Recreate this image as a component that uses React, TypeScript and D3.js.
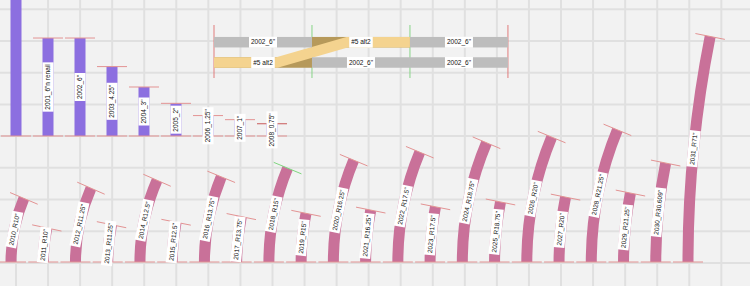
import React, { useEffect, useRef } from 'react';
import * as d3 from 'd3';

// straight bars (inches)
const barNames = ['2000_20"', '2001_6"n renail', '2002_6"', '2003_4.25"', '2004_3"', '2005_2"', '2006_1.25"', '2007_1"', '2008_0.75"'];
const barLengths = [20, 6, 6, 4.25, 3, 2, 1.25, 1, 0.75];

// bent bars: radius and arc length (inches)
const arcNames = ['2010_R10"', '2011_R10"', '2012_R11.25"', '2013_R11.25"', '2014_R12.5"', '2015_R12.5"', '2016_R13.75"', '2017_R13.75"', '2018_R15"', '2019_R15"', '2020_R16.25"', '2021_R16.25"', '2022_R17.5"', '2023_R17.5"', '2024_R18.75"', '2025_R18.75"', '2026_R20"', '2027_R20"', '2028_R21.25"', '2029_R21.25"', '2030_R30.609"', '2031_R71"'];
const arcRadii = [10, 10, 11.25, 11.25, 12.5, 12.5, 13.75, 13.75, 15, 15, 16.25, 16.25, 17.5, 17.5, 18.75, 18.75, 20, 20, 21.25, 21.25, 30.609, 71];
const arcLengths = [4, 2.1, 4.65, 2.3, 5.15, 2.45, 5.35, 2.8, 5.9, 3, 6.4, 3.2, 6.9, 3.4, 7.5, 3.7, 7.85, 4, 8.3, 4.25, 6.1, 13.9];

// lap splice layout (inches)
const lapLabels = ['2002_6"', '#5 alt2', '2002_6"', '#5 alt2', '2002_6"', '2002_6"'];
const lapRows = [0, 0, 0, 1, 1, 1];
const lapStart = [0, 6, 12, 0, 6, 12];
const lapEnd = [6, 12, 18, 6, 12, 18];
const crankX = [0, 3.85, 8.15, 12];
const crankRow = [1, 1, 0, 0];
const endMarks = [0, 18];
const spliceMarks = [6, 12];

const W = 750;
const H = 286;
const PX_PER_IN = 16.33;
const BAR_W = 11;
const FONT = '"Liberation Sans", Arial, sans-serif';

const App = () => {
  const svgRef = useRef<SVGSVGElement>(null);

  useEffect(() => {
    const svg = d3.select(svgRef.current);
    svg.selectAll('*').remove();

    svg.append('rect').attr('width', W).attr('height', H).attr('fill', '#f2f2f2');

    // rejilla
    const grid = svg.append('g').attr('stroke', '#e0e0e0').attr('stroke-width', 2);
    d3.range(0, 24).forEach(k => {
      const x = 16 + k * 32.06;
      grid.append('line').attr('x1', x).attr('x2', x).attr('y1', 0).attr('y2', H);
    });
    d3.range(0, 9).forEach(k => {
      const y = 9.3 + k * 31.7;
      grid.append('line').attr('x1', 0).attr('x2', W).attr('y1', y).attr('y2', y);
    });

    const addLabel = (parent, x, y, rot, text) => {
      const g = parent.append('g').attr('transform', `translate(${x},${y}) rotate(${rot})`);
      const rect = g.append('rect').attr('fill', '#ffffff');
      const t = g.append('text')
        .attr('text-anchor', 'middle')
        .attr('dy', '0.35em')
        .attr('font-family', FONT)
        .attr('font-size', 6.5)
        .attr('fill', '#111111')
        .text(text);
      const len = (t.node() as SVGTextElement).getComputedTextLength() + 4;
      rect.attr('x', -len / 2).attr('y', -5.5).attr('width', len).attr('height', 11);
    };

    const capColor = '#e39393';

    // barras rectas
    const barX = d3.scalePoint().domain(barNames).range([16, 272]);
    const barBase = 136;
    const barY = d3.scaleLinear().domain([0, 1]).range([barBase, barBase - PX_PER_IN]);
    const bars = svg.append('g');
    barNames.forEach((name, i) => {
      const cx = barX(name);
      const top = barY(barLengths[i]);
      bars.append('rect')
        .attr('x', cx - BAR_W / 2).attr('y', top)
        .attr('width', BAR_W).attr('height', barBase - top)
        .attr('fill', '#8c6fe0');
      [top, barBase].forEach(y => {
        bars.append('line')
          .attr('x1', cx - 15).attr('x2', cx + 15)
          .attr('y1', y).attr('y2', y)
          .attr('stroke', i === barNames.length - 1 && y === top ? '#c85a5a' : capColor)
          .attr('stroke-width', 1);
      });
    });
    barNames.forEach((name, i) => {
      const mid = (barY(barLengths[i]) + barBase) / 2;
      // la etiqueta de la barra larga cae fuera de la vista
      if (mid < 30) return;
      addLabel(bars, barX(name), mid, -90, name);
    });

    // barras curvas
    const arcX = d3.scalePoint().domain(arcNames).range([11, 688]);
    const arcBase = 262;
    const arcs = svg.append('g');
    const arcGen = d3.arc();
    const ends = [];
    arcNames.forEach((name, i) => {
      const r = arcRadii[i] * PX_PER_IN;
      const theta = arcLengths[i] / arcRadii[i];
      const cx = arcX(name) + r;
      const a0 = -Math.PI / 2;
      const a1 = a0 + theta;
      arcs.append('path')
        .attr('transform', `translate(${cx},${arcBase})`)
        .attr('d', arcGen({ innerRadius: r - BAR_W / 2, outerRadius: r + BAR_W / 2, startAngle: a0, endAngle: a1 }))
        .attr('fill', '#c97199');
      ends.push({ name, cx, r, a0, a1, theta });
    });
    ends.forEach(e => {
      [e.a0, e.a1].forEach(a => {
        const sx = Math.sin(a);
        const sy = -Math.cos(a);
        arcs.append('line')
          .attr('x1', e.cx + (e.r - 15) * sx).attr('y1', arcBase + (e.r - 15) * sy)
          .attr('x2', e.cx + (e.r + 15) * sx).attr('y2', arcBase + (e.r + 15) * sy)
          .attr('stroke', e.name === '2018_R15"' && a === e.a1 ? '#7fd67f' : capColor)
          .attr('stroke-width', 1);
      });
    });
    ends.forEach(e => {
      const am = e.a0 + e.theta / 2;
      addLabel(arcs, e.cx + e.r * Math.sin(am), arcBase - e.r * Math.cos(am), -90 + (e.theta / 2) * 180 / Math.PI, e.name);
    });

    // empalme
    const lapX = d3.scaleLinear().domain([0, 18]).range([214, 214 + 18 * PX_PER_IN]);
    const lapY = d3.scaleLinear().domain([0, 1]).range([42.2, 62.5]);
    const rowH = 10.5;
    const lap = svg.append('g');
    endMarks.forEach(m => {
      lap.append('line').attr('x1', lapX(m)).attr('x2', lapX(m)).attr('y1', 25).attr('y2', 78)
        .attr('stroke', '#e07c7c').attr('stroke-width', 1);
    });
    spliceMarks.forEach(m => {
      lap.append('line').attr('x1', lapX(m)).attr('x2', lapX(m)).attr('y1', 25).attr('y2', 78)
        .attr('stroke', '#86d486').attr('stroke-width', 1);
    });
    lapLabels.forEach((lbl, i) => {
      if (lbl !== '#5 alt2') return;
      lap.append('rect')
        .attr('x', lapX(lapStart[i])).attr('y', lapY(lapRows[i]) - rowH / 2)
        .attr('width', lapX(lapEnd[i]) - lapX(lapStart[i])).attr('height', rowH)
        .attr('fill', '#b6995a');
    });
    const crankLine = d3.line<number>()
      .x((d, i) => lapX(d))
      .y((d, i) => lapY(crankRow[i]));
    lap.append('path')
      .attr('d', crankLine(crankX))
      .attr('fill', 'none')
      .attr('stroke', '#f4d38f')
      .attr('stroke-width', rowH)
      .attr('stroke-linejoin', 'miter')
      .attr('stroke-linecap', 'butt');
    lapLabels.forEach((lbl, i) => {
      if (lbl === '#5 alt2') return;
      lap.append('rect')
        .attr('x', lapX(lapStart[i])).attr('y', lapY(lapRows[i]) - rowH / 2)
        .attr('width', lapX(lapEnd[i]) - lapX(lapStart[i])).attr('height', rowH)
        .attr('fill', '#bdbdbd');
    });
    lapLabels.forEach((lbl, i) => {
      addLabel(lap, (lapX(lapStart[i]) + lapX(lapEnd[i])) / 2, lapY(lapRows[i]), 0, lbl);
    });
  }, []);

  return (
    <div style={{ position: 'fixed', left: 0, top: 0, width: W, height: H, overflow: 'hidden' }}>
      <svg ref={svgRef} width={W} height={H} style={{ display: 'block' }} />
    </div>
  );
};

export default App;
